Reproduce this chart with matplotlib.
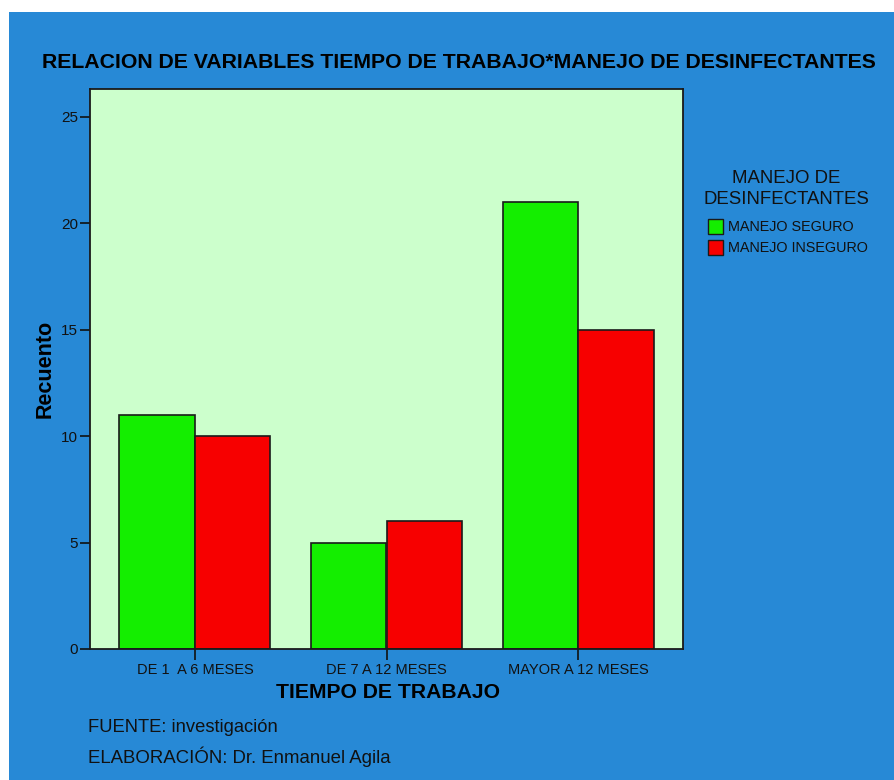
import matplotlib
matplotlib.use("Agg")
import matplotlib.pyplot as plt
from matplotlib.patches import Rectangle
import numpy as np

categories = ["DE 1  A 6 MESES", "DE 7 A 12 MESES", "MAYOR A 12 MESES"]
seguro = [11, 5, 21]
inseguro = [10, 6, 15]
series_names = ["MANEJO SEGURO", "MANEJO INSEGURO"]
yticks = [0, 5, 10, 15, 20, 25]

plt.rcParams['font.family'] = ['Liberation Sans', 'DejaVu Sans']

W, H = 895, 780
fig = plt.figure(figsize=(W/100, H/100), dpi=100, facecolor='white')
blue = '#2789D6'
fig.patches.append(Rectangle((9/W, 0), 1, 1 - 12/H, transform=fig.transFigure,
                             facecolor=blue, edgecolor='none', zorder=-10))

ax = fig.add_axes([90/W, 1 - 649/H, (683-90)/W, (649-89)/H])
ax.set_facecolor('#CCFFCC')
x = np.arange(len(categories))
w = 0.394
ax.bar(x - w/2, seguro, w, color='#14EE00', edgecolor='#1a1a1a', linewidth=1.2, label=series_names[0])
ax.bar(x + w/2, inseguro, w, color='#F70000', edgecolor='#1a1a1a', linewidth=1.2, label=series_names[1])
ax.set_xlim(-0.548, 2.548)
ax.set_ylim(0, 26.3)
ax.set_yticks(yticks)
ax.set_xticks(x)
ax.set_xticklabels(categories, fontsize=10.5, color='#111111')
ax.tick_params(axis='y', labelsize=11, length=7.5, width=1.2, colors='#111111', pad=1)
ax.tick_params(axis='x', length=8, width=1.2, colors='#111111', pad=2)
for s in ax.spines.values():
    s.set_linewidth(1.3)
    s.set_color('#1a1a1a')

fig.text(459/W, 1 - 62/H, "RELACION DE VARIABLES TIEMPO DE TRABAJO*MANEJO DE DESINFECTANTES",
         ha='center', va='center', fontsize=15.3, fontweight='bold', color='#000000')
fig.text(45/W, 1 - 369/H, "Recuento", rotation=90, ha='center', va='center',
         fontsize=15.5, fontweight='bold', color='#000000')
fig.text(388/W, 1 - 693/H, "TIEMPO DE TRABAJO", ha='center', va='center',
         fontsize=15.2, fontweight='bold', color='#000000')
fig.text(88/W, 1 - 727/H, "FUENTE: investigación", ha='left', va='center',
         fontsize=13.2, color='#111111')
fig.text(88/W, 1 - 757/H, "ELABORACIÓN: Dr. Enmanuel Agila", ha='left', va='center',
         fontsize=13.4, color='#111111')

fig.text(786/W, 1 - 189/H, "MANEJO DE\nDESINFECTANTES", ha='center', va='center',
         fontsize=13.4, color='#111111', linespacing=1.25)
colors = ['#14EE00', '#F70000']
for i, (name, c) in enumerate(zip(series_names, colors)):
    yc = 226.5 + i*21
    fig.patches.append(Rectangle((708/W, 1 - (yc+7)/H), 15/W, 14/H, transform=fig.transFigure,
                                 facecolor=c, edgecolor='#1a1a1a', linewidth=1))
    fig.text(728/W, 1 - yc/H, name, ha='left', va='center', fontsize=10.4, color='#111111')

fig.savefig("out.png", dpi=100, facecolor='white')
